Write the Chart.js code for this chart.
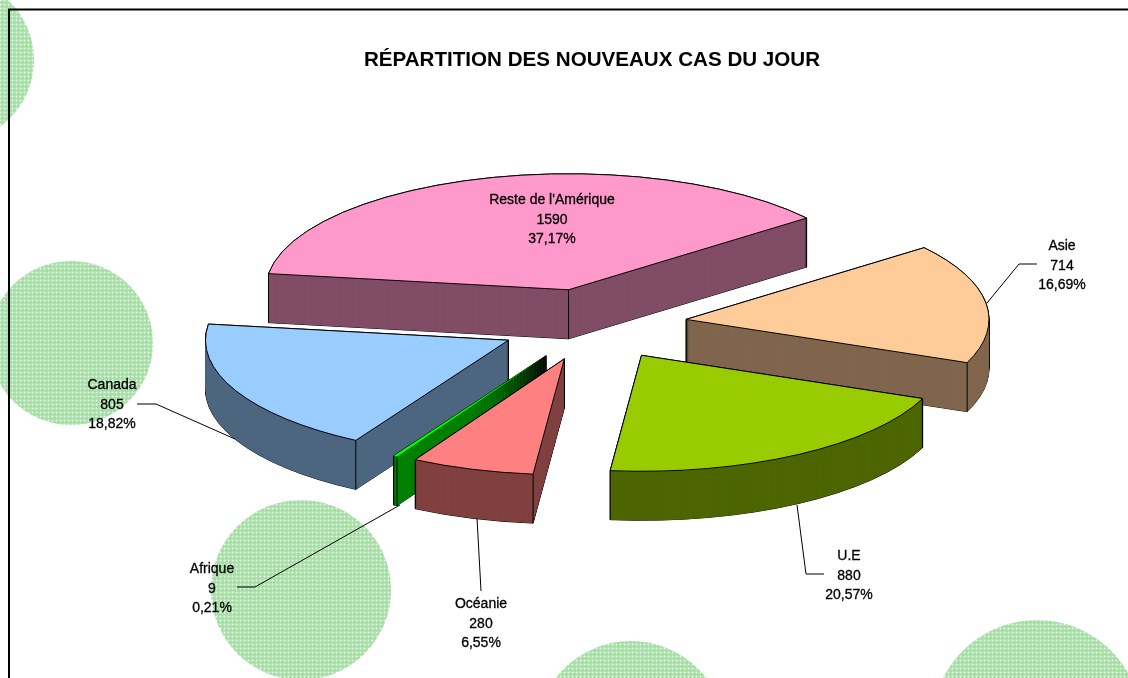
<!DOCTYPE html>
<html><head><meta charset="utf-8">
<style>html,body{margin:0;padding:0;background:#fff}canvas{display:block}</style>
<script src="https://cdn.jsdelivr.net/npm/chart.js@4/dist/chart.umd.min.js"></script>
</head><body><canvas id="c" width="1128" height="678"></canvas>
<script>
const categories = ["Reste de l'Amérique", "Asie", "U.E", "Océanie", "Afrique", "Canada"];
const values = [1590, 714, 880, 280, 9, 805];
const percentLabels = ["37,17%", "16,69%", "20,57%", "6,55%", "0,21%", "18,82%"];
const topColors = ["#FF99CC", "#FFCC99", "#99CC00", "#FF8080", "#00FF00", "#99CCFF"];
const wallColors = ["#804D66", "#80664D", "#4D6600", "#804040", "#008000", "#4D6680"];
const titleText = "RÉPARTITION DES NOUVEAUX CAS DU JOUR";

// Projection style of the pseudo-3D pie
const VIEW = {cx: 593, cy: 324.5, rx: 303, ry: 116, depth: 49, explode: 0.31};
const LABEL_STYLE = [
  {x: 552, y: 200, clip: 617}, {x: 1062, y: 246}, {x: 849, y: 556},
  {x: 481, y: 604}, {x: 212, y: 569}, {x: 112, y: 385}
];
const LEADERS = [
  null,
  [[1037,264],[1019,264],[987,303]],
  [[824,574],[806,574],[797,505]],
  [[481,591],[477,518]],
  [[237,587],[255,587],[400,505]],
  [[137,404],[156,404],[235,439]]
];
const DECOR = [[-48,60,82],[71,343,82],[301,590,90],[631,736,95],[1037,725,105]];

function stipple(ctx){
  const p = document.createElement('canvas'); p.width = p.height = 4;
  const g = p.getContext('2d');
  g.fillStyle = '#A8DFA8'; g.fillRect(0,0,4,4);
  g.fillStyle = '#C6EBC6';
  [[1,0],[3,0],[0,1],[0,3]].forEach(q => g.fillRect(q[0],q[1],1,1));
  g.fillStyle = '#EEF9EE'; g.fillRect(0,0,1,1);
  return ctx.createPattern(p,'repeat');
}

const pie3d = {
  id: 'pie3d',
  beforeDatasetsDraw(chart){
    const ctx = chart.ctx;
    const arcs = chart.getDatasetMeta(0).data;
    const R = arcs[0].outerRadius;
    const sx = VIEW.rx / R, sy = VIEW.ry / R;

    // decoration
    ctx.save();
    ctx.fillStyle = stipple(ctx);
    DECOR.forEach(d => { ctx.beginPath(); ctx.arc(d[0], d[1], d[2], 0, Math.PI*2); ctx.fill(); });
    ctx.restore();

    // frame
    ctx.save();
    ctx.strokeStyle = '#000'; ctx.lineWidth = 2;
    ctx.beginPath(); ctx.moveTo(9, 678); ctx.lineTo(9, 9.5); ctx.lineTo(1128, 9.5); ctx.stroke();
    ctx.restore();

    const placed = arcs.map((arc, i) => {
      const mid = (arc.startAngle + arc.endAngle) / 2;
      return {arc, i, mid,
        ox: VIEW.cx + VIEW.explode * VIEW.rx * Math.cos(mid),
        oy: VIEW.cy + VIEW.explode * VIEW.ry * Math.sin(mid)};
    }).sort((a, b) => a.oy - b.oy);

    const at = (p, h) => { ctx.translate(p.ox, p.oy + h); ctx.scale(sx, sy); ctx.translate(-p.arc.x, -p.arc.y); };
    const outline = (p, h) => {
      ctx.save(); at(p, h);
      ctx.beginPath(); ctx.moveTo(p.arc.x, p.arc.y);
      ctx.arc(p.arc.x, p.arc.y, R, p.arc.startAngle, p.arc.endAngle);
      ctx.closePath(); ctx.restore();
    };
    const paint = (p, h, color) => {
      ctx.save(); at(p, h);
      p.arc.options.backgroundColor = color;
      p.arc.draw(ctx);
      ctx.restore();
    };

    placed.forEach(p => {
      ctx.strokeStyle = '#000'; ctx.lineWidth = 1;
      for (let h = 0; h <= VIEW.depth; h += 1) { outline(p, h); ctx.stroke(); }
      for (let h = VIEW.depth; h > 0; h -= 1) paint(p, h, wallColors[p.i]);
      paint(p, 0, topColors[p.i]);

      // vertical edges at the slice's corners where they show
      outline(p, 0);
      const corners = [
        [p.ox, p.oy],
        [p.ox + VIEW.rx * Math.cos(p.arc.startAngle), p.oy + VIEW.ry * Math.sin(p.arc.startAngle)],
        [p.ox + VIEW.rx * Math.cos(p.arc.endAngle), p.oy + VIEW.ry * Math.sin(p.arc.endAngle)]
      ].filter(c => !ctx.isPointInPath(c[0], c[1] + 3));
      corners.forEach(c => {
        ctx.beginPath(); ctx.moveTo(c[0], c[1]); ctx.lineTo(c[0], c[1] + VIEW.depth); ctx.stroke();
      });
      if (p.arc.circumference > 0.05) { outline(p, 0); ctx.stroke(); }
    });

    // leaders
    ctx.save();
    ctx.strokeStyle = '#000'; ctx.lineWidth = 1;
    LEADERS.forEach(l => {
      if (!l) return;
      ctx.beginPath();
      l.forEach((q, k) => k ? ctx.lineTo(q[0], q[1]) : ctx.moveTo(q[0], q[1]));
      ctx.stroke();
    });
    ctx.restore();

    // labels
    ctx.save();
    ctx.font = '14px "Liberation Sans"';
    ctx.fillStyle = '#000'; ctx.strokeStyle = '#000'; ctx.lineWidth = 0.3;
    ctx.textAlign = 'center'; ctx.textBaseline = 'middle';
    categories.forEach((name, i) => {
      const s = LABEL_STYLE[i];
      ctx.save();
      if (s.clip) { ctx.beginPath(); ctx.rect(0, 0, s.clip, 678); ctx.clip(); }
      [name, String(values[i]), percentLabels[i]].forEach((t, k) => {
        ctx.fillText(t, s.x, s.y + k * 19.7);
        ctx.strokeText(t, s.x, s.y + k * 19.7);
      });
      ctx.restore();
    });
    ctx.restore();
    return false;
  }
};

new Chart(document.getElementById('c'), {
  type: 'pie',
  data: {labels: categories, datasets: [{data: values, backgroundColor: topColors.slice(), borderWidth: 0}]},
  plugins: [pie3d],
  options: {
    responsive: false, animation: false, rotation: -82, events: [],
    layout: {padding: {left: 56}},
    plugins: {
      legend: {display: false}, tooltip: {enabled: false},
      title: {display: true, text: titleText, fullSize: false, color: '#000',
        font: {family: '"Liberation Sans"', size: 20.6, weight: 'bold'},
        padding: {top: 48, bottom: 0}}
    }
  }
});
</script></body></html>
